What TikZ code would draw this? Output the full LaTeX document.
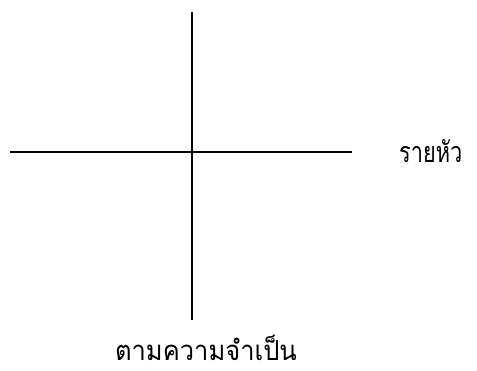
\documentclass[tikz,border=0pt]{standalone}
\usepackage{fontspec}
\newfontfamily\thaifont[Script=Thai]{Loma}
\begin{document}
\begin{tikzpicture}[x=1pt,y=-1pt,
  axis/.style={line width=1.5pt,black},
  lbl/.style={font=\thaifont\fontsize{25}{30}\selectfont,inner sep=0pt}]
\useasboundingbox (0,0) rectangle (477,370);
\coordinate (top) at (192,12);
\coordinate (bot) at (192,320);
\coordinate (left) at (10,152);
\coordinate (right) at (352,152);
\draw[axis] (top) -- (bot);
\draw[axis] (left) -- (right);
\node[lbl,anchor=west,xscale=0.87,yscale=1.15] (rh) at (399,151) {รายหัว};
\node[lbl,xscale=1.02,yscale=1.1] (tk) at (206,348) {ตามความจำเป็น};
\end{tikzpicture}
\end{document}
